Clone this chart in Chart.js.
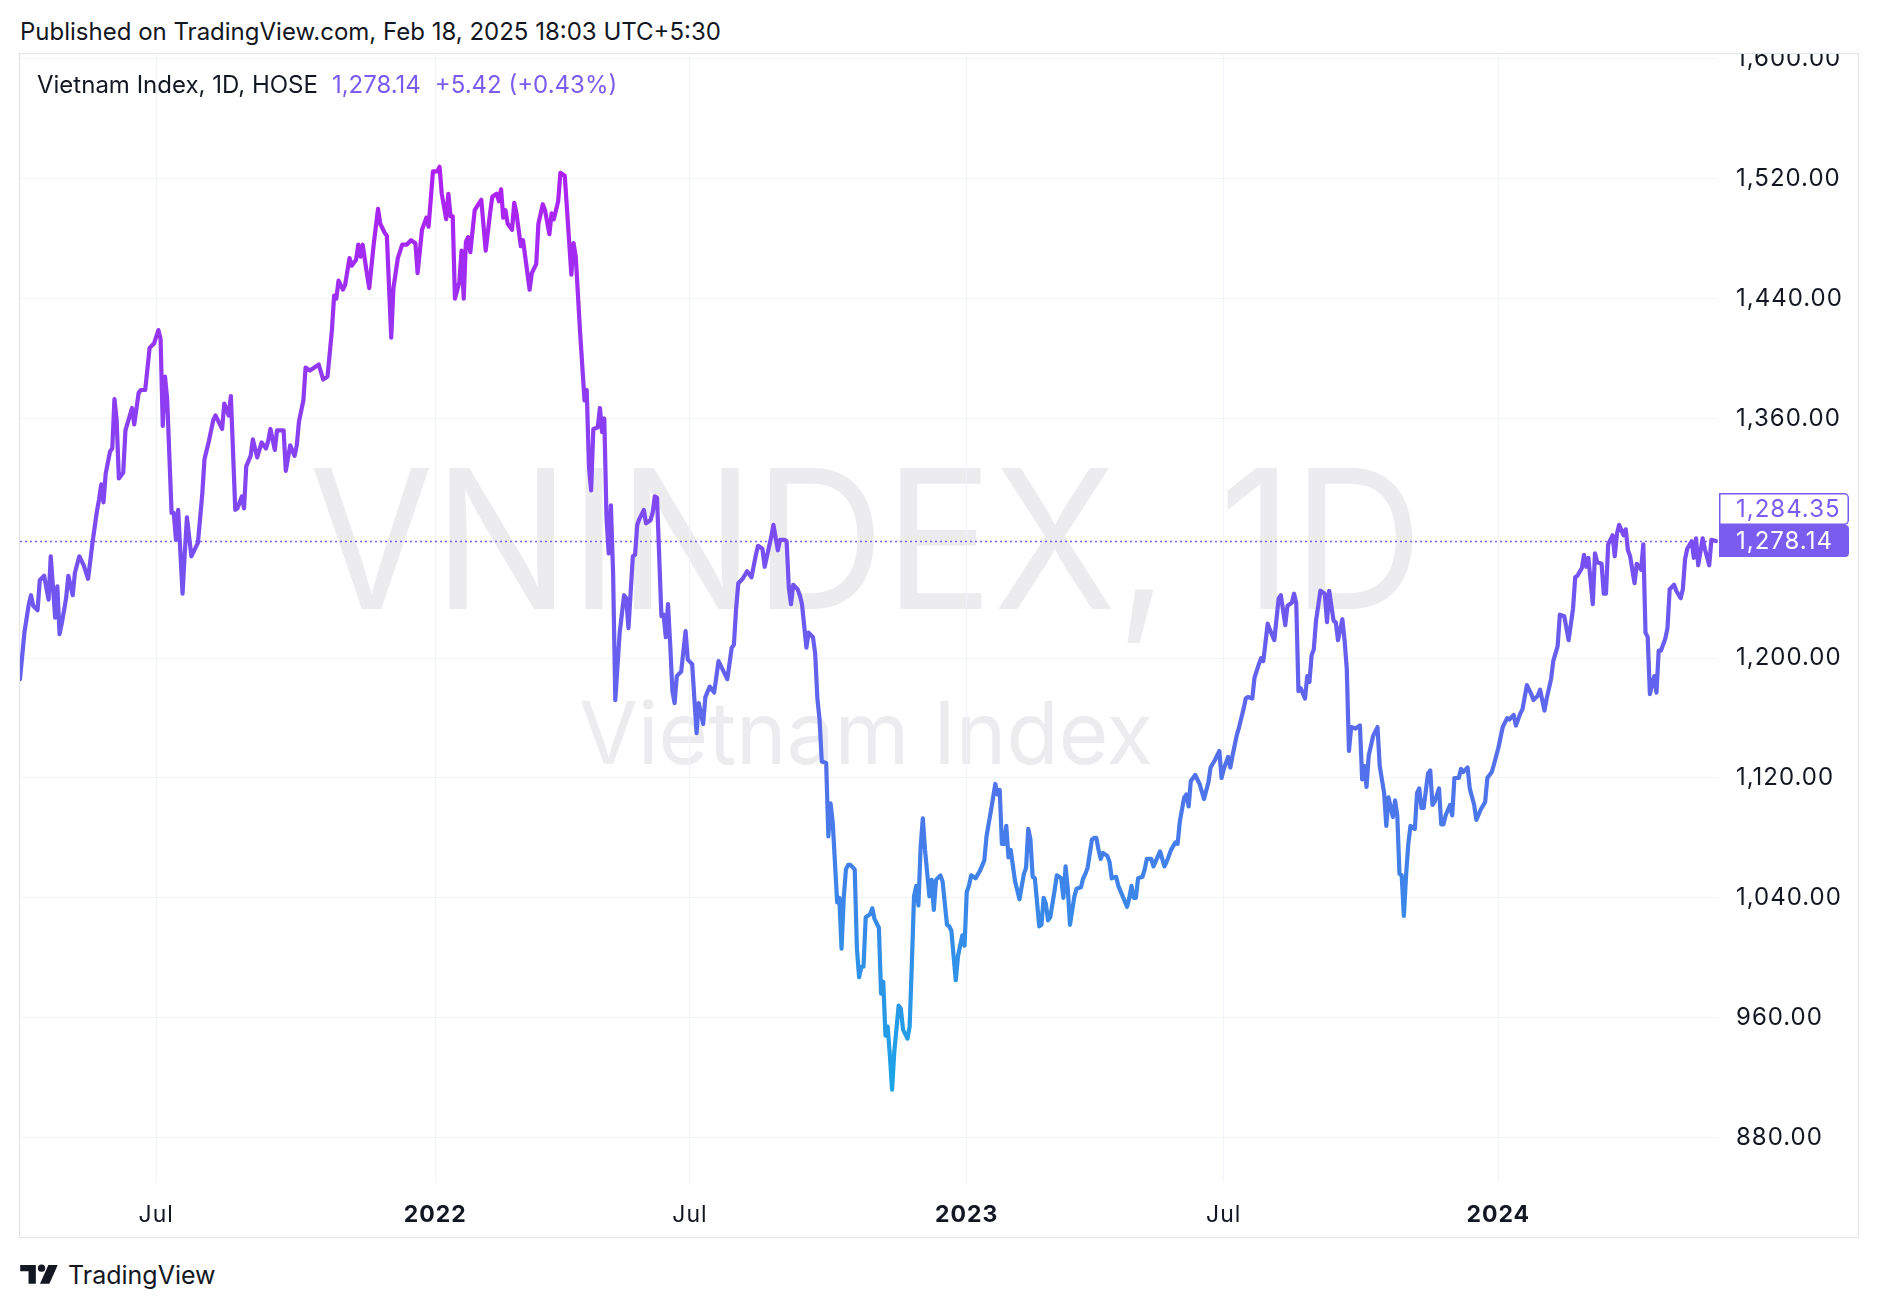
<!DOCTYPE html>
<html>
<head>
<meta charset="utf-8">
<title>Vietnam Index, 1D, HOSE</title>
<script src="https://cdn.jsdelivr.net/npm/chart.js@4.4.1/dist/chart.umd.min.js"></script>
<style>
    html, body { margin: 0; padding: 0; background: #fff; }
    body {
        width: 1882px; height: 1310px; position: relative; overflow: hidden;
        font-family: Inter, "Noto Sans", sans-serif; color: #131722;
    }
    .published { position: absolute; left: 20px; top: 18px; font-size: 24px; line-height: 28px; }
    .frame {
        position: absolute; left: 19px; top: 53px; width: 1840px; height: 1185px;
        box-sizing: border-box; border: 1px solid #e0e3eb;
    }
    #chart-wrap { position: absolute; left: 20px; top: 54px; width: 1838px; height: 1183px; }
    .legend { position: absolute; left: 37px; top: 71px; font-size: 24px; line-height: 28px; z-index: 2; }
    .legend .val { color: #7b5cf0; margin-left: 14px; }
    .brand { position: absolute; left: 20px; top: 1260px; display: flex; align-items: center; font-size: 25px; }
    .brand svg { margin-right: 8px; }
</style>
</head>
<body>
<div class="published">Published on TradingView.com, Feb 18, 2025 18:03 UTC+5:30</div>
<div class="frame"></div>
<div id="chart-wrap"><canvas id="vnindex"></canvas></div>
<div class="legend" id="legend"></div>
<div class="brand">
    <svg width="40" height="25" viewBox="0 0 38 24">
        <path d="M0 2h15v18H8V8H0z" fill="#131722"/>
        <circle cx="20.5" cy="5" r="3.5" fill="#131722"/>
        <path d="M27 2h9l-8 18h-9z" fill="#131722"/>
    </svg>
    <span>TradingView</span>
</div>
<script>
// session index (trading days from the first bar) and close
const sessions = [
    0, 2, 4, 5, 6, 8, 9, 11, 13, 14, 16, 17, 18, 19, 21, 22, 24, 25, 27, 29, 31, 33, 35, 36, 37, 38, 39, 41, 42, 43,
    44, 45, 47, 48, 51, 52, 54, 55, 57, 59, 61, 63, 64, 65, 66, 67, 69, 70, 71, 72, 74, 75, 76, 78, 81, 83, 84, 86, 88, 89,
    92, 93, 95, 96, 98, 99, 101, 102, 103, 105, 106, 108, 110, 112, 113, 114, 116, 117, 120, 121, 123, 125, 126, 127, 129, 130, 132, 136, 138, 140,
    142, 143, 144, 145, 147, 148, 150, 151, 153, 154, 155, 156, 158, 159, 161, 163, 164, 166, 167, 169, 170, 172, 174, 176, 178, 180, 181, 183, 185, 186,
    188, 190, 191, 192, 194, 195, 196, 197, 198, 200, 201, 202, 203, 204, 205, 207, 210, 212, 214, 215, 217, 218, 219, 220, 221, 222, 224, 225, 226, 228,
    229, 232, 233, 235, 236, 238, 239, 241, 242, 243, 245, 246, 248, 250, 251, 252, 253, 255, 257, 258, 259, 260, 261, 263, 264, 265, 266, 267, 268, 269,
    270, 271, 273, 275, 276, 277, 279, 280, 281, 282, 284, 285, 287, 288, 289, 290, 292, 293, 294, 295, 296, 297, 298, 299, 301, 303, 304, 306, 308, 309,
    311, 312, 314, 316, 318, 320, 322, 324, 325, 326, 327, 329, 331, 333, 335, 336, 338, 339, 342, 343, 345, 346, 348, 349, 350, 351, 352, 354, 355, 356,
    358, 359, 361, 362, 363, 364, 365, 367, 368, 369, 370, 372, 373, 374, 375, 376, 377, 378, 380, 381, 382, 383, 384, 385, 387, 388, 389, 391, 392, 393,
    394, 395, 396, 397, 398, 400, 401, 402, 404, 405, 406, 407, 408, 409, 410, 411, 412, 414, 415, 416, 417, 419, 420, 422, 423, 424, 426, 427, 429, 430,
    431, 432, 433, 435, 437, 439, 440, 442, 444, 445, 446, 447, 448, 449, 450, 451, 453, 455, 457, 458, 459, 460, 461, 462, 464, 465, 466, 467, 468, 469,
    471, 472, 474, 475, 476, 477, 478, 480, 481, 483, 484, 485, 486, 488, 489, 490, 491, 492, 493, 495, 496, 497, 499, 500, 502, 504, 505, 506, 507, 508,
    509, 511, 512, 513, 515, 516, 519, 521, 522, 524, 526, 527, 528, 530, 531, 532, 533, 535, 537, 539, 541, 542, 544, 546, 547, 548, 550, 551, 552, 554,
    555, 557, 558, 559, 561, 562, 564, 565, 566, 568, 569, 571, 573, 574, 576, 577, 579, 580, 581, 582, 583, 585, 586, 587, 588, 589, 590, 592, 594, 595,
    596, 598, 599, 600, 602, 603, 604, 605, 606, 608, 610, 611, 612, 613, 614, 616, 618, 619, 621, 622, 623, 625, 626, 627, 628, 629, 630, 631, 632, 633,
    635, 636, 637, 638, 639, 641, 642, 643, 644, 646, 647, 648, 649, 651, 652, 653, 655, 656, 657, 659, 660, 662, 663, 665, 667, 668, 670, 671, 673, 675,
    677, 678, 680, 681, 683, 684, 686, 688, 689, 691, 692, 694, 695, 697, 698, 700, 701, 703, 705, 707, 708, 709, 711, 712, 713, 714, 716, 717, 718, 720,
    721, 722, 723, 725, 726, 727, 728, 730, 731, 732, 733, 735, 736, 738, 739, 740, 741, 742, 744, 745, 746, 747, 749, 750, 751, 753, 754, 756, 757, 758,
    759, 761, 762, 763, 764, 766, 767, 769, 770, 772
];
const closes = [
    1186, 1217, 1236, 1242, 1235, 1232, 1252, 1255, 1239, 1268, 1227, 1248, 1216, 1223, 1240, 1255, 1242, 1257, 1268, 1262, 1253, 1277, 1298, 1306, 1316, 1304, 1323, 1338, 1340, 1373,
    1359, 1320, 1324, 1352, 1367, 1356, 1377, 1379, 1379, 1407, 1410, 1419, 1413, 1355, 1388, 1373, 1297, 1297, 1279, 1299, 1243, 1270, 1294, 1268, 1277, 1310, 1333, 1345, 1359, 1362,
    1353, 1370, 1362, 1375, 1299, 1300, 1308, 1300, 1328, 1335, 1346, 1334, 1344, 1340, 1345, 1353, 1339, 1352, 1352, 1325, 1342, 1335, 1342, 1358, 1372, 1394, 1392, 1396, 1386, 1388,
    1419, 1442, 1440, 1452, 1446, 1449, 1467, 1462, 1466, 1476, 1468, 1476, 1456, 1447, 1476, 1500, 1490, 1484, 1482, 1414, 1447, 1467, 1476, 1476, 1479, 1477, 1457, 1486, 1494, 1488,
    1525, 1525, 1528, 1510, 1493, 1510, 1495, 1495, 1440, 1451, 1472, 1440, 1478, 1481, 1471, 1499, 1506, 1472, 1497, 1508, 1510, 1505, 1513, 1494, 1499, 1490, 1486, 1504, 1497, 1475,
    1479, 1446, 1457, 1463, 1490, 1503, 1499, 1483, 1497, 1493, 1505, 1524, 1522, 1478, 1456, 1477, 1468, 1417, 1372, 1379, 1328, 1312, 1353, 1354, 1367, 1351, 1360, 1294, 1270, 1302,
    1257, 1172, 1217, 1242, 1240, 1220, 1268, 1269, 1289, 1293, 1299, 1290, 1292, 1297, 1308, 1307, 1228, 1229, 1214, 1236, 1209, 1178, 1170, 1188, 1191, 1218, 1199, 1196, 1150, 1170,
    1156, 1174, 1181, 1177, 1198, 1192, 1186, 1207, 1209, 1233, 1250, 1253, 1258, 1254, 1269, 1275, 1273, 1261, 1281, 1289, 1272, 1279, 1279, 1278, 1247, 1236, 1249, 1246, 1242, 1236,
    1207, 1217, 1214, 1203, 1173, 1159, 1131, 1130, 1081, 1103, 1090, 1037, 1040, 1006, 1040, 1059, 1062, 1062, 1059, 1006, 987, 994, 994, 1027, 1029, 1033, 1026, 1020, 976, 984,
    948, 954, 935, 912, 937, 968, 966, 952, 946, 954, 996, 1041, 1048, 1035, 1074, 1093, 1072, 1041, 1052, 1032, 1052, 1055, 1051, 1022, 1021, 1018, 985, 1001, 1015, 1008,
    1044, 1048, 1055, 1053, 1058, 1065, 1081, 1098, 1116, 1109, 1112, 1076, 1076, 1088, 1067, 1072, 1051, 1039, 1056, 1060, 1086, 1079, 1054, 1053, 1021, 1022, 1040, 1036, 1025, 1027,
    1045, 1055, 1053, 1040, 1061, 1046, 1022, 1041, 1046, 1047, 1053, 1056, 1060, 1079, 1080, 1080, 1072, 1066, 1070, 1068, 1064, 1053, 1054, 1048, 1041, 1034, 1040, 1048, 1040, 1040,
    1053, 1054, 1059, 1066, 1066, 1061, 1071, 1061, 1064, 1072, 1077, 1076, 1091, 1107, 1109, 1101, 1118, 1122, 1116, 1106, 1117, 1127, 1132, 1138, 1120, 1126, 1134, 1127, 1135, 1149,
    1154, 1166, 1173, 1174, 1173, 1187, 1196, 1200, 1198, 1223, 1219, 1212, 1240, 1242, 1222, 1235, 1237, 1243, 1237, 1178, 1180, 1173, 1188, 1184, 1202, 1206, 1225, 1245, 1243, 1224,
    1245, 1225, 1224, 1212, 1226, 1212, 1193, 1138, 1154, 1153, 1155, 1119, 1128, 1114, 1135, 1148, 1154, 1128, 1110, 1088, 1107, 1094, 1105, 1095, 1056, 1055, 1028, 1055, 1076, 1088,
    1086, 1110, 1113, 1100, 1100, 1123, 1125, 1102, 1104, 1113, 1089, 1089, 1095, 1102, 1095, 1120, 1120, 1126, 1124, 1127, 1113, 1102, 1092, 1099, 1104, 1120, 1124, 1129, 1140, 1154,
    1160, 1159, 1162, 1155, 1163, 1166, 1182, 1176, 1172, 1175, 1179, 1165, 1173, 1186, 1198, 1208, 1229, 1228, 1212, 1233, 1254, 1255, 1260, 1269, 1261, 1267, 1236, 1270, 1264, 1263,
    1243, 1243, 1276, 1282, 1268, 1283, 1289, 1282, 1286, 1272, 1268, 1250, 1263, 1259, 1276, 1217, 1214, 1176, 1188, 1177, 1205, 1205, 1213, 1220, 1246, 1249, 1245, 1240, 1246, 1266,
    1273, 1278, 1267, 1280, 1262, 1280, 1273, 1262, 1279, 1278.14
];

const yTicks = [880, 960, 1040, 1120, 1200, 1360, 1440, 1520, 1600];
const xTickPos = [62, 189, 305, 431, 548, 673];
const xTickLabels = ['Jul', '2022', 'Jul', '2023', 'Jul', '2024'];

const lastClose = 1278.14;
const refPrice = 1284.35;
const change = 5.42;
const changePct = 0.43;

const FONT = 'Inter, "Noto Sans", sans-serif';
const TEXT = '#131722';
const GRID = '#f0f3fa';
const PRICE = '#7b5cf0';
const LABEL_PAD = 18;

function fmt(v) {
    return v.toLocaleString('en-US', { minimumFractionDigits: 2, maximumFractionDigits: 2 });
}

document.getElementById('legend').innerHTML =
    'Vietnam Index, 1D, HOSE' +
    `<span class="val">${fmt(lastClose)}</span>` +
    `<span class="val">+${change.toFixed(2)} (+${changePct.toFixed(2)}%)</span>`;

// big faded symbol text in the middle of the pane
function drawStretched(ctx, text, x, y, width, sy) {
    ctx.font = `100px ${FONT}`;
    const size = 100 * width / ctx.measureText(text).width;
    ctx.font = `${size.toFixed(1)}px ${FONT}`;
    ctx.save();
    ctx.translate(x, y);
    ctx.scale(1, sy);
    ctx.fillText(text, 0, 0);
    ctx.restore();
}

const watermark = {
    id: 'watermark',
    beforeDraw(chart) {
        const { ctx, chartArea } = chart;
        const cx = (chartArea.left + chartArea.right) / 2 - 3;
        ctx.save();
        ctx.fillStyle = '#ececef';
        ctx.textAlign = 'center';
        ctx.textBaseline = 'middle';
        drawStretched(ctx, 'VNINDEX, 1D', cx, 497, 1114, 1.07);
        drawStretched(ctx, 'Vietnam Index', cx, 684, 574, 1.02);
        ctx.restore();
        // wider tracking for the axis digits, like the original UI font
        ctx.letterSpacing = '1px';
    },
};

// dotted last-price line plus the two price tags on the right scale
const lastPrice = {
    id: 'lastPrice',
    beforeDatasetsDraw(chart) {
        const { ctx, chartArea, scales } = chart;
        const y = Math.round(scales.y.getPixelForValue(lastClose)) + 0.5;
        ctx.save();
        ctx.strokeStyle = PRICE;
        ctx.lineWidth = 1.5;
        ctx.setLineDash([2, 3]);
        ctx.beginPath();
        ctx.moveTo(chartArea.left, y);
        ctx.lineTo(chartArea.right, y);
        ctx.stroke();
        ctx.restore();
    },
    afterDraw(chart) {
        const { ctx, chartArea, scales } = chart;
        const y = scales.y.getPixelForValue(lastClose);
        const x = chartArea.right + 1;
        const w = 130;
        const h = 32;
        ctx.save();
        ctx.font = `24px ${FONT}`;
        ctx.letterSpacing = '1px';
        ctx.textBaseline = 'middle';
        ctx.textAlign = 'left';

        ctx.fillStyle = PRICE;
        ctx.beginPath();
        ctx.roundRect(x, y - h / 2, w, h, [0, 4, 4, 0]);
        ctx.fill();
        ctx.fillStyle = '#ffffff';
        ctx.fillText(fmt(lastClose), chartArea.right + LABEL_PAD, y + 1);

        const top = y - h / 2 - h;
        ctx.fillStyle = '#ffffff';
        ctx.strokeStyle = PRICE;
        ctx.lineWidth = 1.5;
        ctx.beginPath();
        ctx.roundRect(x + 0.75, top + 0.75, w - 1.5, h - 1.5, [0, 4, 4, 0]);
        ctx.fill();
        ctx.stroke();
        ctx.fillStyle = PRICE;
        ctx.fillText(fmt(refPrice), chartArea.right + LABEL_PAD, top + h / 2 + 1);
        ctx.restore();
        ctx.letterSpacing = '0px';
    },
};

function lineGradient(context) {
    const { chart } = context;
    if (!chart.chartArea) return PRICE;
    const y = chart.scales.y;
    const g = chart.ctx.createLinearGradient(0, y.getPixelForValue(1530), 0, y.getPixelForValue(910));
    g.addColorStop(0, '#b01ff2');
    g.addColorStop(0.4, '#7b4cf2');
    g.addColorStop(0.7, '#4a78ea');
    g.addColorStop(1, '#1aa6e6');
    return g;
}

function noPadding(scale) {
    scale.paddingTop = 0;
    scale.paddingBottom = 0;
    scale.paddingLeft = 0;
    scale.paddingRight = 0;
}

new Chart(document.getElementById('vnindex'), {
    type: 'line',
    data: {
        datasets: [{
            data: sessions.map((s, i) => ({ x: s, y: closes[i] })),
            borderColor: lineGradient,
            borderWidth: 4.2,
            pointRadius: 0,
            tension: 0,
            borderJoinStyle: 'round',
            borderCapStyle: 'round',
        }],
    },
    options: {
        responsive: true,
        maintainAspectRatio: false,
        animation: false,
        events: [],
        layout: { padding: 0 },
        plugins: {
            legend: { display: false },
            tooltip: { enabled: false },
        },
        scales: {
            x: {
                type: 'linear',
                min: 0,
                max: 773,
                afterBuildTicks: (scale) => { scale.ticks = xTickPos.map(v => ({ value: v })); },
                afterFit: (scale) => { scale.height = 55; noPadding(scale); },
                grid: { color: GRID, lineWidth: 1, drawTicks: false },
                border: { display: false },
                ticks: {
                    autoSkip: false,
                    maxRotation: 0,
                    padding: 19,
                    color: TEXT,
                    font: (ctx) => ({
                        family: FONT,
                        size: 23,
                        weight: /^\d{4}$/.test(ctx.tick && ctx.tick.label) ? 'bold' : 'normal',
                    }),
                    callback: (v, i) => xTickLabels[i],
                },
            },
            y: {
                type: 'linear',
                position: 'right',
                min: 850.3,
                max: 1603.3,
                afterBuildTicks: (scale) => { scale.ticks = yTicks.map(v => ({ value: v })); },
                afterFit: (scale) => { scale.width = 140; noPadding(scale); },
                grid: { color: GRID, lineWidth: 1, drawTicks: false },
                border: { display: false },
                ticks: {
                    crossAlign: 'near',
                    padding: LABEL_PAD,
                    color: TEXT,
                    font: { family: FONT, size: 24 },
                    callback: (v) => fmt(v),
                },
            },
        },
    },
    plugins: [watermark, lastPrice],
});
</script>
</body>
</html>
